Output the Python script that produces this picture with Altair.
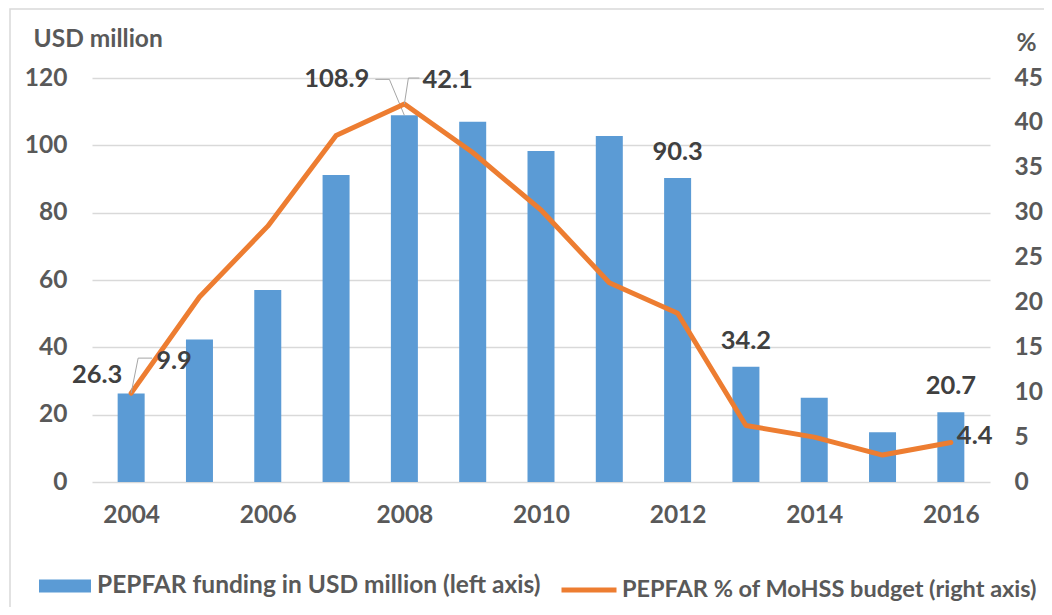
import altair as alt
import pandas as pd

years = list(range(2004, 2017))
funding = [26.3, 42.3, 57.0, 91.2, 108.9, 107.0, 98.3, 102.8, 90.3, 34.2, 25.0, 14.8, 20.7]
share = [9.9, 20.6, 28.5, 38.6, 42.1, 36.7, 30.3, 22.2, 18.8, 6.3, 5.0, 3.0, 4.4]

bar_name = "PEPFAR funding in USD million (left axis)"
line_name = "PEPFAR % of MoHSS budget (right axis)"
left_ticks = [0, 20, 40, 60, 80, 100, 120]
right_ticks = [0, 5, 10, 15, 20, 25, 30, 35, 40, 45]
x_ticks = [2004, 2006, 2008, 2010, 2012, 2014, 2016]

BLUE = "#5B9BD5"
ORANGE = "#ED7D31"
LABEL = "#404040"
AXIS = "#595959"
GRID = "#d9d9d9"
LEADER = "#a6a6a6"
FONT = "Lato"
FS = 24.5
DFS = 25.5

df = pd.DataFrame({"year": years, "funding": funding, "share": share})
base = alt.Chart(df)

X = alt.X("year:Q",
          scale=alt.Scale(domain=[2003.5, 2016.5], nice=False, zero=False),
          axis=alt.Axis(values=x_ticks, format="d", grid=False, ticks=False,
                        domain=False, labelPadding=21, title=None))
YL = alt.Y("funding:Q", scale=alt.Scale(domain=[0, 120], nice=False),
           axis=alt.Axis(values=left_ticks, grid=True, gridColor=GRID, gridWidth=1.5,
                         domain=False, ticks=False, labelPadding=25,
                         title="USD million", titleAngle=0, titleAlign="left",
                         titleBaseline="middle", titleX=-59, titleY=-39))
YR = alt.Y("share:Q", scale=alt.Scale(domain=[0, 45], nice=False),
           axis=alt.Axis(values=right_ticks, orient="right", grid=False, domain=False,
                         ticks=False, labelPadding=24, labelAlign="left",
                         title="%", titleAngle=0, titleAlign="left",
                         titleBaseline="middle", titleX=26, titleY=-35))


def sel(c, yrs):
    return c.transform_filter(alt.FieldOneOfPredicate(field="year", oneOf=yrs))


bars = base.transform_calculate(series=f"'{bar_name}'").mark_bar(width=27).encode(
    x=X, y=YL,
    fill=alt.Fill("series:N", scale=alt.Scale(domain=[bar_name], range=[BLUE]),
                  legend=alt.Legend(orient="none", legendX=-53, legendY=482, title=None,
                                    symbolType="M-1,-0.25L1,-0.25L1,0.25L-1,0.25Z",
                                    symbolSize=2704, symbolStrokeWidth=0,
                                    labelOffset=6, labelLimit=1000)))

txt = dict(font=FONT, fontWeight="bold", fontSize=DFS, color=LABEL, baseline="middle")
bar_lab_top = sel(base, [2012, 2013, 2016]).mark_text(align="center", dy=-26, **txt).encode(
    x=X, y=YL, text=alt.Text("funding:Q", format=".1f"))
bar_lab_2004 = sel(base, [2004]).mark_text(align="center", dx=-34, dy=-18, **txt).encode(
    x=X, y=YL, text=alt.Text("funding:Q", format=".1f"))
bar_lab_2008 = sel(base, [2008]).mark_text(align="right", dx=-35, dy=-36, **txt).encode(
    x=X, y=YL, text=alt.Text("funding:Q", format=".1f"))


def seg(c, yenc, yfield, xo, yo, x2o, y2o):
    return c.mark_rule(color=LEADER, strokeWidth=1, xOffset=xo, yOffset=yo,
                       x2Offset=x2o, y2Offset=y2o).encode(
        x=X, y=yenc, x2="year:Q", y2=f"{yfield}:Q")


bl1 = seg(sel(base, [2008]), YL, "funding", -29, -36, -15, -36)
bl2 = seg(sel(base, [2008]), YL, "funding", -15, -36, 0, 0)

left = alt.layer(bars, bar_lab_top, bar_lab_2004, bar_lab_2008, bl1, bl2)

line = base.transform_calculate(series2=f"'{line_name}'").mark_line(
    strokeWidth=5, strokeCap="round", strokeJoin="round").encode(
    x=X, y=YR,
    stroke=alt.Stroke("series2:N", scale=alt.Scale(domain=[line_name], range=[ORANGE]),
                      legend=alt.Legend(orient="none", legendX=467, legendY=482, title=None,
                                        symbolType="stroke", symbolSize=3025,
                                        symbolStrokeWidth=5, labelOffset=3,
                                        labelFontSize=23.5, labelLimit=1000)))

ll_2004 = sel(base, [2004]).mark_text(align="left", dx=25, dy=-32, **txt).encode(
    x=X, y=YR, text=alt.Text("share:Q", format=".1f"))
ll_2008 = sel(base, [2008]).mark_text(align="left", dx=18, dy=-24, **txt).encode(
    x=X, y=YR, text=alt.Text("share:Q", format=".1f"))
ll_2016 = sel(base, [2016]).mark_text(align="left", dx=6, dy=-6, **txt).encode(
    x=X, y=YR, text=alt.Text("share:Q", format=".1f"))

l1 = seg(sel(base, [2008]), YR, "share", 0, 0, 4, -26)
l2 = seg(sel(base, [2008]), YR, "share", 4, -26, 15, -26)
l3 = seg(sel(base, [2004]), YR, "share", 0, 0, 7, -35)
l4 = seg(sel(base, [2004]), YR, "share", 7, -35, 21, -35)

right = alt.layer(line, ll_2004, ll_2008, ll_2016, l1, l2, l3, l4)

frame = alt.Chart(pd.DataFrame({"k": [0]})).mark_rect(
    fill="transparent", stroke=GRID, strokeWidth=1.5).encode(
    x=alt.value(-82), x2=alt.value(1100), y=alt.value(-69), y2=alt.value(700))

chart = alt.layer(frame, left, right).resolve_scale(
    y="independent", fill="independent", stroke="independent").properties(
    width=898, height=404,
    autosize=alt.AutoSizeParams(type="none"),
    padding={"left": 84, "top": 70, "right": 54, "bottom": 125},
).configure_view(stroke=None).configure_axis(
    labelFont=FONT, labelFontWeight="bold", labelFontSize=FS, labelColor=AXIS,
    titleFont=FONT, titleFontWeight="bold", titleFontSize=FS, titleColor=AXIS,
).configure_legend(
    labelFont=FONT, labelFontWeight="bold", labelFontSize=FS, labelColor=AXIS,
)

chart.save("out.html", embed_options={"renderer": "svg", "actions": False})
